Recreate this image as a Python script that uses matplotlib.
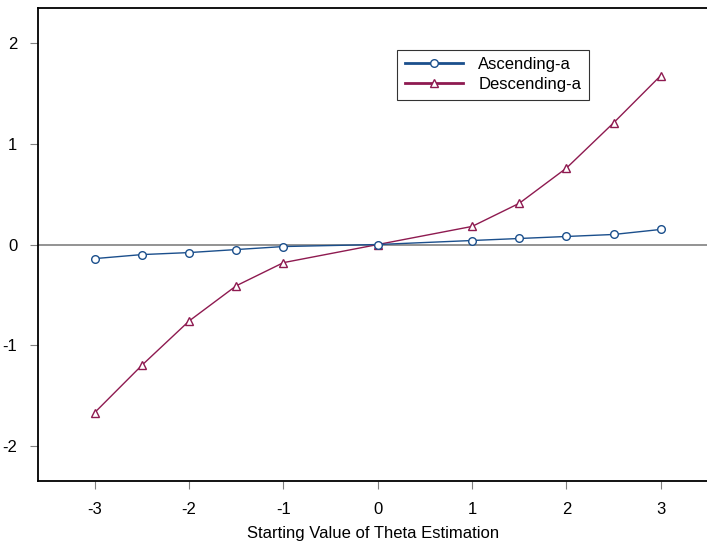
import matplotlib
matplotlib.use('Agg')
import matplotlib.pyplot as plt

plt.rcParams['font.family'] = ['Liberation Sans', 'DejaVu Sans']
plt.rcParams['axes.unicode_minus'] = False

theta = [-3, -2.5, -2, -1.5, -1, 0, 1, 1.5, 2, 2.5, 3]
asc = [-0.14, -0.10, -0.08, -0.05, -0.02, 0.0, 0.04, 0.06, 0.08, 0.10, 0.15]
desc = [-1.67, -1.20, -0.76, -0.41, -0.18, 0.0, 0.18, 0.41, 0.76, 1.21, 1.68]
xticks = [-3, -2, -1, 0, 1, 2, 3]
yticks = [-2, -1, 0, 1, 2]

blue = '#1b4f8c'
red = '#8e1a50'

fig = plt.figure(figsize=(7.07, 5.44), dpi=100)
ax = fig.add_axes([0.054, 0.116, 0.946, 0.869])

ax.axhline(0, color='#808080', lw=1.2, zorder=1)
ax.plot(theta, asc, color=blue, lw=1, marker='o', ms=5.5, mfc='white',
        mec=blue, mew=1, label='Ascending-a', zorder=3)
ax.plot(theta, desc, color=red, lw=1, marker='^', ms=5.5, mfc='white',
        mec=red, mew=1, label='Descending-a', zorder=2)

ax.set_xlim(-3.6, 3.49)
ax.set_ylim(-2.35, 2.35)
ax.set_xticks(xticks)
ax.set_yticks(yticks)
ax.tick_params(direction='out', length=6, color='#808080', labelsize=12, pad=9)
ax.spines['right'].set_visible(False)
for s in ['left', 'bottom', 'top']:
    ax.spines[s].set_linewidth(1.3)
ax.set_xlabel('Starting Value of Theta Estimation', fontsize=12, labelpad=7)

leg = ax.legend(loc='upper left', bbox_to_anchor=(0.537, 0.912), fontsize=12,
                frameon=True, fancybox=False, edgecolor='black',
                handlelength=3.5, handletextpad=0.9, borderpad=0.45,
                labelspacing=0.3, borderaxespad=0)
leg.get_frame().set_linewidth(0.8)
for line in leg.get_lines():
    line.set_linewidth(2)

fig.savefig('out.png', dpi=100)
